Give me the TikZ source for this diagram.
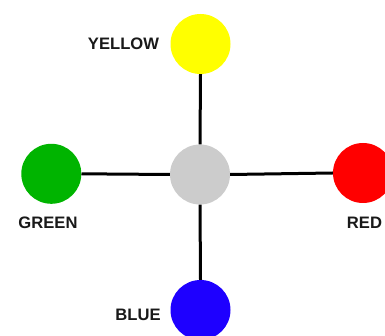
\documentclass[tikz,border=0pt]{standalone}
\usepackage{fontspec}
\setmainfont{Liberation Sans}
\definecolor{cgreen}{RGB}{0,180,0}
\definecolor{cblue}{RGB}{30,0,255}
\definecolor{cgray}{RGB}{204,204,204}
\definecolor{cyellow}{RGB}{255,255,0}
\definecolor{cred}{RGB}{255,0,0}
\tikzset{
  dot/.style={circle, minimum size=60pt, inner sep=0pt, fill=#1},
  lbl/.style={font=\fontsize{16.6}{18}\selectfont\bfseries, text=black!90, inner sep=0pt},
  link/.style={line width=3pt, black}
}
\begin{document}
\begin{tikzpicture}[x=1pt,y=-1pt]
  \useasboundingbox (0,0) rectangle (385,336);
  % colour dots around the grey hub
  \node[dot=cgray]   (c) at (200,174.5) {};
  \node[dot=cyellow] (y) at (200.5,44) {};
  \node[dot=cgreen]  (g) at (51.3,173.8) {};
  \node[dot=cred]    (r) at (363,173) {};
  \node[dot=cblue]   (b) at (200.5,310) {};
  % spokes
  \draw[link] (c.north) -- (y.south);
  \draw[link] (c.west) -- (g.east);
  \draw[link] (c.east) -- (r.west);
  \draw[link] (c.south) -- (b.north);
  % labels
  \node[lbl] (ly) at (123.5,44) {YELLOW};
  \node[lbl] (lg) at (48,223) {GREEN};
  \node[lbl] (lr) at (364.5,222.5) {RED};
  \node[lbl] (lb) at (138,314.5) {BLUE};
\end{tikzpicture}
\end{document}
